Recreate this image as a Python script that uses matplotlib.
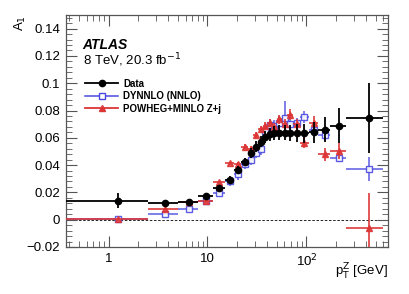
import matplotlib
matplotlib.use("Agg")
import matplotlib.pyplot as plt
from matplotlib.lines import Line2D
from matplotlib.ticker import FixedLocator, FuncFormatter, MultipleLocator, LogLocator
import numpy as np

plt.rcParams['font.family'] = ['Liberation Sans', 'DejaVu Sans']

# pT(Z) bin edges [GeV]
edges = [0, 2.5, 5, 8, 11.4, 14.9, 18.5, 22, 25.5, 29, 32.6, 36.4, 40.4, 44.9,
         50.2, 56.4, 63.9, 73.4, 85.4, 105, 132, 173, 253, 600]

data_a1 = [0.0137, 0.0120, 0.0132, 0.0172, 0.0232, 0.0292, 0.0365, 0.0425, 0.0487,
           0.0536, 0.0570, 0.0605, 0.0625, 0.0635, 0.0638, 0.0638, 0.0636, 0.0634,
           0.0634, 0.0640, 0.0659, 0.0690, 0.0744]
data_err = [0.0055, 0.0022, 0.0018, 0.0018, 0.0022, 0.0025, 0.0030, 0.0030, 0.0035,
            0.0040, 0.0040, 0.0045, 0.0050, 0.0050, 0.0055, 0.0055, 0.0060, 0.0065,
            0.0070, 0.0075, 0.0090, 0.0130, 0.0255]

dynnlo_a1 = [0.0003, 0.0042, 0.0076, 0.0135, 0.0198, 0.0280, 0.0333, 0.0409, 0.0440,
             0.0490, 0.0517, 0.0650, 0.0695, 0.0690, 0.0712, 0.0744, 0.0700, 0.0708,
             0.0750, 0.0660, 0.0617, 0.0455, 0.0370]
dynnlo_err = [0.0005, 0.0010, 0.0010, 0.0012, 0.0020, 0.0030, 0.0040, 0.0040, 0.0040,
              0.0040, 0.0045, 0.0040, 0.0040, 0.0040, 0.0050, 0.0125, 0.0040, 0.0040,
              0.0045, 0.0040, 0.0040, 0.0030, 0.0090]

powheg_a1 = [0.0003, 0.0079, 0.0128, 0.0140, 0.0277, 0.0415, 0.0410, 0.0536, 0.0517,
             0.0620, 0.0664, 0.0688, 0.0708, 0.0680, 0.0735, 0.0700, 0.0769, 0.0700,
             0.0560, 0.0710, 0.0478, 0.0505, -0.0063]
powheg_err = [0.0005, 0.0010, 0.0010, 0.0010, 0.0010, 0.0010, 0.0015, 0.0015, 0.0020,
              0.0020, 0.0020, 0.0030, 0.0030, 0.0030, 0.0035, 0.0035, 0.0040, 0.0040,
              0.0035, 0.0050, 0.0050, 0.0060, 0.0260]

lo = np.array(edges[:-1], dtype=float)
hi = np.array(edges[1:], dtype=float)
centers = 0.5 * (lo + hi)
xerr = [centers - lo, hi - centers]

fig = plt.figure(figsize=(4.09, 2.94), dpi=100)
ax = fig.add_axes([0.161, 0.160, 0.788, 0.789])
ax.set_xscale('log')

ax.axhline(0, color='black', lw=0.6, ls=(0, (3, 2)), zorder=1)

blue = '#4a4ae0'
red = '#dd3535'
ax.errorbar(centers, dynnlo_a1, yerr=dynnlo_err, xerr=xerr, fmt='s', color=blue,
            mfc='white', mec=blue, ms=4.5, mew=1.0, elinewidth=1.1, capsize=0,
            zorder=2, alpha=0.9)
ax.errorbar(centers, powheg_a1, yerr=powheg_err, xerr=xerr, fmt='^', color=red,
            ms=4, elinewidth=1.3, capsize=0, zorder=3, alpha=0.9)
ax.errorbar(centers, data_a1, yerr=data_err, xerr=xerr, fmt='o', color='black',
            ms=4.5, elinewidth=1.3, capsize=0, zorder=4)

ax.set_xlim(0.37, 670)
ax.set_ylim(-0.02, 0.15)

ax.yaxis.set_major_locator(MultipleLocator(0.02))
ax.yaxis.set_minor_locator(MultipleLocator(0.004))
ax.yaxis.set_major_formatter(FuncFormatter(
    lambda v, p: '0' if abs(v) < 1e-9 else ('%g' % v).replace('-', '\u2212')))
ax.xaxis.set_major_locator(FixedLocator([1, 10, 100]))
ax.xaxis.set_minor_locator(LogLocator(base=10, subs=np.arange(2, 10)))
ax.xaxis.set_major_formatter(FuncFormatter(
    lambda v, p: {1: '1', 10: '10', 100: '10$^2$'}.get(int(round(v)), '')))

ax.tick_params(which='both', direction='in', top=True, right=True,
               labelsize=9.5, color='#555555', pad=4)
ax.tick_params(which='major', length=8, width=0.8)
ax.tick_params(which='minor', length=4, width=0.6)
for s in ax.spines.values():
    s.set_color('#555555')
    s.set_linewidth(0.9)

fig.text(0.05, 0.949, 'A$_1$', rotation=90, ha='center', va='top', fontsize=9.5)
fig.text(0.949, 0.04, 'p$_\\mathrm{T}^\\mathrm{Z}$ [GeV]', ha='right', va='bottom',
         fontsize=9.5)

ax.text(0.052, 0.87, 'ATLAS', transform=ax.transAxes, fontsize=10,
        fontweight='bold', style='italic', va='center')
ax.text(0.052, 0.805, '8 TeV, 20.3 fb$^{-1}$', transform=ax.transAxes,
        fontsize=9.5, va='center')

handles = [
    Line2D([], [], color='black', marker='o', ms=4.5, lw=1.3),
    Line2D([], [], color=blue, marker='s', mfc='white', mec=blue, ms=4.5, lw=1.1),
    Line2D([], [], color=red, marker='^', ms=4, lw=1.3),
]
labels = ['Data', 'DYNNLO (NNLO)', 'POWHEG+MINLO Z+j']
leg = ax.legend(handles, labels, loc='upper left', bbox_to_anchor=(0.06, 0.725),
                frameon=False, prop={'size': 7, 'weight': 'bold'},
                handlelength=3.4, handletextpad=0.5, labelspacing=0.25,
                borderaxespad=0, borderpad=0)

fig.savefig('out.png', dpi=100)
